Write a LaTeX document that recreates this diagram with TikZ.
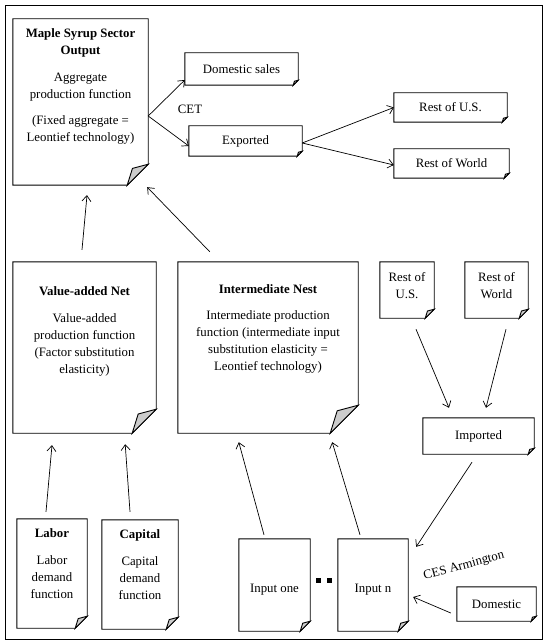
\documentclass[tikz,border=0pt]{standalone}
\usepackage{fontspec}
\setmainfont{Liberation Serif}
\usetikzlibrary{arrows.meta}

\tikzset{
  page/.style={draw=none, inner sep=0pt},
  words/.style={align=center, inner sep=0pt, anchor=north},
  link/.style={-{Straight Barb[length=5.5pt,width=9pt]}, line width=0.7pt},
}
% outline with a folded corner at the bottom right
\newcommand{\dogear}[2]{%
  \draw[line width=0.9pt] (#1.north west) -- (#1.north east) -- ([yshift=#2]#1.south east)
    -- ([xshift=-#2]#1.south east) -- (#1.south west) -- cycle;
  \filldraw[line width=0.9pt, fill=gray!40] ([yshift=#2]#1.south east)
    -- ([xshift=-0.75*#2, yshift=0.8*#2]#1.south east) -- ([xshift=-#2]#1.south east) -- cycle;
}

\begin{document}
\begin{tikzpicture}[x=1pt, y=-1pt, every node/.style={font=\fontsize{12.8}{17}\selectfont}]

\useasboundingbox (0,0) rectangle (550,644);
\draw[line width=0.9pt] (5,5) rectangle (542,639);

% Output nest and sales
\node[page, minimum width=135pt, minimum height=166pt] (maple) at (80.5,102) {};
\node[page, minimum width=113pt, minimum height=32pt] (dsales) at (241.5,69) {Domestic sales};
\node[page, minimum width=113pt, minimum height=30pt] (exported) at (245.5,141) {Exported};
\node[page, minimum width=113pt, minimum height=29pt] (rus) at (450.5,107.5) {Rest of U.S.};
\node[page, minimum width=115pt, minimum height=29pt] (rw) at (451.5,163.5) {Rest of World};
\dogear{maple}{21pt}
\dogear{dsales}{5pt}
\dogear{exported}{5pt}
\dogear{rus}{5pt}
\dogear{rw}{5pt}
\node[words] (mapletext) at ([yshift=-10pt]maple.north)
  {\textbf{Maple Syrup Sector}\\\textbf{Output}\\[10pt]Aggregate\\production function\\[9pt](Fixed aggregate =\\Leontief technology)};
\node (cet) at (190,109) {CET};

% Value-added and intermediate nests
\node[page, minimum width=143pt, minimum height=171pt] (vadd) at (84.5,347.5) {};
\node[page, minimum width=180pt, minimum height=171pt] (inter) at (268,347.5) {};
\dogear{vadd}{24pt}
\dogear{inter}{28pt}
\node[words] (vaddtext) at ([yshift=-25pt]vadd.north)
  {\textbf{Value-added Net}\\[10pt]Value-added\\production function\\(Factor substitution\\elasticity)};
\node[words] (intertext) at ([yshift=-23pt]inter.north)
  {\textbf{Intermediate Nest}\\[9pt]Intermediate production\\function (intermediate input\\substitution elasticity =\\Leontief technology)};

% Factors
\node[page, minimum width=70pt, minimum height=109pt] (labor) at (52,573.5) {};
\node[page, minimum width=76pt, minimum height=109pt] (capital) at (140,574.5) {};
\dogear{labor}{12pt}
\dogear{capital}{12pt}
\node[words] (labortext) at ([yshift=-10pt]labor.north)
  {\textbf{Labor}\\[10pt]Labor\\demand\\function};
\node[words] (capitaltext) at ([yshift=-10pt]capital.north)
  {\textbf{Capital}\\[10pt]Capital\\demand\\function};

% Intermediate inputs and Armington
\node[page, minimum width=54pt, minimum height=56pt] (rusm) at (407,290) {};
\node[page, minimum width=63pt, minimum height=56pt] (rwm) at (496.5,290) {};
\node[page, minimum width=111pt, minimum height=36pt] (imported) at (478.5,436) {Imported};
\node[page, minimum width=71pt, minimum height=92pt] (inone) at (274.5,585) {};
\node[page, minimum width=70pt, minimum height=92pt] (inn) at (373,585) {};
\node[page, minimum width=79pt, minimum height=34pt] (domestic) at (496.5,604) {Domestic};
\dogear{rusm}{9pt}
\dogear{rwm}{9pt}
\dogear{imported}{6pt}
\dogear{inone}{10pt}
\dogear{inn}{10pt}
\dogear{domestic}{5pt}
\node[words] (rusmtext) at ([yshift=-10pt]rusm.north) {Rest of\\U.S.};
\node[words] (rwmtext) at ([yshift=-10pt]rwm.north) {Rest of\\World};
\node (inonetext) at ([yshift=-5pt]inone.center) {Input one};
\node (inntext) at ([yshift=-5pt]inn.center) {Input n};
\node[rotate=15, inner sep=1pt] (ces) at (464,566) {CES Armington};
\fill (315.5,577.5) rectangle ++(5,5);
\fill (326.5,577.5) rectangle ++(5,5);

% Connectors
\draw[link] ([yshift=-14pt]maple.east) -- ([yshift=-11pt]dsales.west);
\draw[link] ([yshift=-14pt]maple.east) -- ([yshift=-5pt]exported.west);
\draw[link] ([yshift=-2pt]exported.east) -- (rus.west);
\draw[link] ([yshift=-2pt]exported.east) -- ([yshift=-1.5pt]rw.west);
\draw[link] ([xshift=-2.5pt,yshift=12pt]vadd.north) -- ([xshift=6.5pt,yshift=-10pt]maple.south);
\draw[link] ([xshift=32pt,yshift=10pt]inter.north west) -- ([xshift=-1pt,yshift=-2pt]maple.south east);
\draw[link] ([xshift=-6pt,yshift=7pt]labor.north) -- ([xshift=-32.5pt,yshift=-12pt]vadd.south);
\draw[link] ([xshift=-10pt,yshift=8pt]capital.north) -- ([xshift=-31pt,yshift=-11pt]vadd.south east);
\draw[link] ([xshift=-10.5pt,yshift=4pt]inone.north) -- ([xshift=61pt,yshift=-9pt]inter.south west);
\draw[link] ([xshift=-13pt,yshift=4pt]inn.north) -- ([xshift=-26pt,yshift=-9pt]inter.south east);
\draw[link] ([xshift=9pt,yshift=-11pt]rusm.south) -- ([xshift=-29.5pt,yshift=10pt]imported.north);
\draw[link] ([xshift=9.5pt,yshift=-11pt]rwm.south) -- ([xshift=7.5pt,yshift=10pt]imported.north);
\draw[link] ([xshift=-6.5pt,yshift=-8pt]imported.south) -- ([xshift=8pt,yshift=-8pt]inn.north east);
\draw[link] ([xshift=-6pt,yshift=-9pt]domestic.west) -- ([xshift=5pt,yshift=-12pt]inn.east);

\end{tikzpicture}
\end{document}
